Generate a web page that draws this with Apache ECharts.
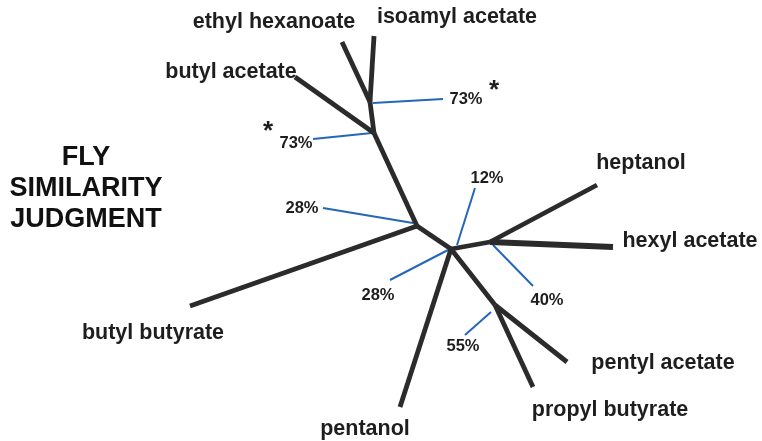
<!DOCTYPE html>
<html>
<head>
<meta charset="UTF-8">
<script src="https://cdn.jsdelivr.net/npm/echarts@6/dist/echarts.min.js"></script>
<style>
  html, body { margin: 0; padding: 0; background: #fff; }
  #chart { width: 762px; height: 441px; }
</style>
</head>
<body>
<div id="chart"></div>
<script>
// internal nodes of the tree (x, y in plot units)
const nodeNames = ['A', 'B', 'C', 'D', 'E', 'F'];
const nodeX = [370, 374, 417, 451, 490, 495];
const nodeY = [102, 133, 226, 249, 242, 305];

// leaves: tip position, then label position
const leafNames = ['ethyl hexanoate', 'isoamyl acetate', 'butyl acetate', 'butyl butyrate',
  'heptanol', 'hexyl acetate', 'pentyl acetate', 'propyl butyrate', 'pentanol'];
const leafX = [342, 374, 295, 190, 597, 613, 567, 533, 400];
const leafY = [42, 36, 77, 306, 185, 247, 362, 387, 407];
const leafLabelX = [274, 457, 231, 153, 641, 690, 663, 610, 365];
const leafLabelY = [22, 17, 72, 333, 163, 241, 363, 410, 429];

// branches: [from, to]
const edges = [
  ['A', 'ethyl hexanoate'], ['A', 'isoamyl acetate'], ['A', 'B'],
  ['B', 'butyl acetate'], ['B', 'C'], ['C', 'butyl butyrate'], ['C', 'D'],
  ['D', 'pentanol'], ['D', 'E'], ['E', 'heptanol'], ['E', 'hexyl acetate'],
  ['D', 'F'], ['F', 'pentyl acetate'], ['F', 'propyl butyrate']
];

// bootstrap support markers
const supportLabels = ['73%', '73%', '28%', '12%', '28%', '40%', '55%'];
const supportFromX = [373, 372, 413, 457, 448, 493, 491];
const supportFromY = [103, 133, 223, 245, 250, 245, 312];
const supportToX = [443, 313, 323, 475, 390, 533, 465];
const supportToY = [99, 139, 208, 188, 280, 286, 335];
const supportLabelX = [466, 296, 302, 487, 378, 547, 463];
const supportLabelY = [99, 143, 208, 178, 295, 300, 346];
const starX = [494, 268];
const starY = [91, 132];

const titleLines = ['FLY', 'SIMILARITY', 'JUDGMENT'];
const titleX = [86, 86, 86];
const titleY = [158, 189, 220];

const pos = {};
nodeNames.forEach((n, i) => pos[n] = [nodeX[i], nodeY[i]]);
leafNames.forEach((n, i) => pos[n] = [leafX[i], leafY[i]]);

const FONT = 'Arial';

const edgeData = edges.map(e => ({
  coords: [pos[e[0]], pos[e[1]]],
  lineStyle: { width: e[1] === 'hexyl acetate' ? 6 : 4.8 }
}));
const supportData = supportLabels.map((s, i) => ({
  coords: [[supportFromX[i], supportFromY[i]], [supportToX[i], supportToY[i]]]
}));

function textSeries(data, size, color) {
  return {
    type: 'scatter', symbolSize: 0, itemStyle: { opacity: 1 },
    data: data,
    label: {
      show: true, position: 'inside', formatter: p => p.name,
      fontFamily: FONT, fontWeight: 'bold', fontSize: size, color: color
    }
  };
}

const chart = echarts.init(document.getElementById('chart'));
chart.setOption({
  animation: false,
  grid: { left: 0, right: 0, top: 0, bottom: 0 },
  xAxis: { type: 'value', min: 0, max: 762, show: false },
  yAxis: { type: 'value', min: 0, max: 441, inverse: true, show: false },
  series: [
    {
      type: 'lines', coordinateSystem: 'cartesian2d',
      data: supportData,
      lineStyle: { color: '#2566b8', width: 2, opacity: 1 }
    },
    {
      type: 'lines', coordinateSystem: 'cartesian2d',
      data: edgeData,
      lineStyle: { color: '#2b2b2b', opacity: 1, cap: 'butt', join: 'round' }
    },
    textSeries(leafNames.map((n, i) => ({ value: [leafLabelX[i], leafLabelY[i]], name: n })), 21.5, '#1e1e1e'),
    textSeries(supportLabels.map((s, i) => ({ value: [supportLabelX[i], supportLabelY[i]], name: s })), 16.5, '#1e1e1e'),
    textSeries(starX.map((x, i) => ({ value: [x, starY[i]], name: '*' })), 26, '#1e1e1e'),
    textSeries(titleLines.map((t, i) => ({ value: [titleX[i], titleY[i]], name: t })), 27, '#111')
  ]
});
</script>
</body>
</html>
